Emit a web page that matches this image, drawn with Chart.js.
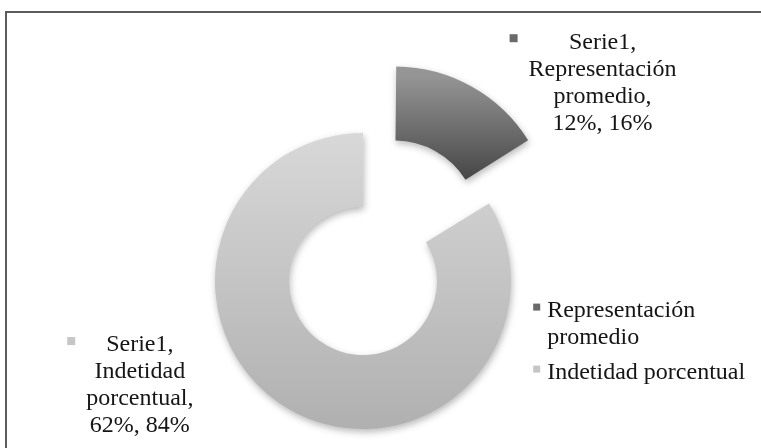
<!DOCTYPE html>
<html><head><meta charset="utf-8">
<script src="https://cdn.jsdelivr.net/npm/chart.js@4"></script>
<style>
html,body{margin:0;padding:0;background:#fff;overflow:hidden}
#wrap{position:relative;width:761px;height:448px;overflow:hidden}
#frame{position:absolute;left:5px;top:11px;width:800px;height:500px;border-left:2px solid #5c5c5c;border-top:2px solid #5c5c5c;box-sizing:border-box}
canvas{position:absolute;left:0;top:0}
</style></head><body>
<div id="wrap"><div id="frame"></div><canvas id="c" width="761" height="448"></canvas></div>
<script>
// ---- data ----
const seriesName = 'Serie1';
const categories = ['Representación promedio', 'Indetidad porcentual'];
const values = [12, 62];            // value shown in labels (%)
const shares = [16, 84];            // share of total shown in labels (%)
const colorsTop = ['#959595', '#d8d8d8'];
const colorsBottom = ['#404040', '#b0b0b0'];
const markerColors = ['#6a6a6a', '#c6c6c6'];

// ---- layout constants ----
const RADIUS = 148;
const OFFSETS = [260, 0];
const FONT = '24px "Liberation Serif", "Times New Roman", serif';
const TEXT_COLOR = '#151515';
const LINE_H = 27;
const labelLayout = [{dx: 0.885, dy: -0.30}, {dx: -1.02, dy: -0.44}];

function labelLines(i) {
  const words = categories[i].split(' ');
  const lines = [seriesName + ','];
  words.forEach((w, k) => lines.push(k === words.length - 1 ? w + ',' : w));
  lines.push(values[i] + '%, ' + shares[i] + '%');
  return lines;
}

// gradients are in the arc's own (translated) drawing space
function grad(context, i) {
  const chart = context.chart;
  const ca = chart.chartArea;
  if (!ca) return colorsTop[i];
  const cy = (ca.top + ca.bottom) / 2;
  let y0, y1;
  if (i === 0) { y0 = cy - RADIUS; y1 = cy - RADIUS + 112; }
  else { y0 = cy - RADIUS; y1 = cy + RADIUS; }
  const g = chart.ctx.createLinearGradient(0, y0, 0, y1);
  g.addColorStop(0, colorsTop[i]);
  g.addColorStop(1, colorsBottom[i]);
  return g;
}

const shadowPlugin = {
  id: 'shadow',
  beforeDatasetsDraw(chart) {
    const ctx = chart.ctx;
    ctx.save();
    ctx.shadowColor = 'rgba(0,0,0,0.28)';
    ctx.shadowBlur = 7;
    ctx.shadowOffsetX = 1;
    ctx.shadowOffsetY = 3;
  },
  afterDatasetsDraw(chart) { chart.ctx.restore(); }
};

const labelPlugin = {
  id: 'sliceLabels',
  afterDraw(chart) {
    const ctx = chart.ctx;
    const meta = chart.getDatasetMeta(0);
    ctx.save();
    ctx.font = FONT;
    ctx.fillStyle = TEXT_COLOR;
    ctx.textAlign = 'center';
    ctx.textBaseline = 'middle';
    meta.data.forEach((arc, i) => {
      const p = arc.getProps(['x', 'y', 'startAngle', 'endAngle', 'outerRadius'], true);
      const mid = (p.startAngle + p.endAngle) / 2;
      const circ = p.endAngle - p.startAngle;
      const off = (arc.options.offset || 0) / 4;
      const shift = off * (2 - Math.sin(Math.min(Math.PI, circ)));
      const ax = p.x + Math.cos(mid) * (p.outerRadius + shift);
      const ay = p.y + Math.sin(mid) * (p.outerRadius + shift);
      const cx = ax + labelLayout[i].dx * p.outerRadius;
      const y0 = ay + labelLayout[i].dy * p.outerRadius;
      const lines = labelLines(i);
      let maxW = 0;
      lines.forEach((l, k) => {
        ctx.fillText(l, cx, y0 + k * LINE_H);
        maxW = Math.max(maxW, ctx.measureText(l).width);
      });
      ctx.fillStyle = markerColors[i];
      ctx.fillRect(cx - maxW / 2 - 19, y0 - 8, 8, 8);
      ctx.fillStyle = TEXT_COLOR;
    });
    // legend
    const ca = chart.chartArea;
    const ccx = (ca.left + ca.right) / 2, ccy = (ca.top + ca.bottom) / 2;
    const lx = ccx + RADIUS * 1.15;
    let ly = ccy + RADIUS * 0.2;
    const tx = lx + 14;
    const maxWidth = chart.width - tx - 4;
    ctx.textAlign = 'left';
    categories.forEach((cat, i) => {
      const words = cat.split(' ');
      const lines = [];
      let cur = '';
      words.forEach(w => {
        const test = cur ? cur + ' ' + w : w;
        if (cur && ctx.measureText(test).width > maxWidth) { lines.push(cur); cur = w; }
        else cur = test;
      });
      lines.push(cur);
      ctx.fillStyle = markerColors[i];
      ctx.fillRect(lx, ly - 7, 7, 7);
      ctx.fillStyle = TEXT_COLOR;
      lines.forEach((l, k) => ctx.fillText(l, tx, ly + k * LINE_H));
      ly += lines.length * LINE_H + 8;
    });
    ctx.restore();
  }
};

new Chart(document.getElementById('c'), {
  type: 'doughnut',
  data: {
    labels: categories,
    datasets: [{
      label: seriesName,
      data: values,
      backgroundColor: (ctx) => grad(ctx, ctx.dataIndex),
      borderWidth: 0,
      offset: OFFSETS,
      hoverOffset: 0
    }]
  },
  options: {
    responsive: false,
    animation: false,
    devicePixelRatio: 1,
    radius: RADIUS,
    cutout: '50%',
    layout: {padding: {left: 0, right: 35, top: 114, bottom: 0}},
    plugins: {legend: {display: false}, tooltip: {enabled: false}, title: {display: false}}
  },
  plugins: [shadowPlugin, labelPlugin]
});
</script>
</body></html>
